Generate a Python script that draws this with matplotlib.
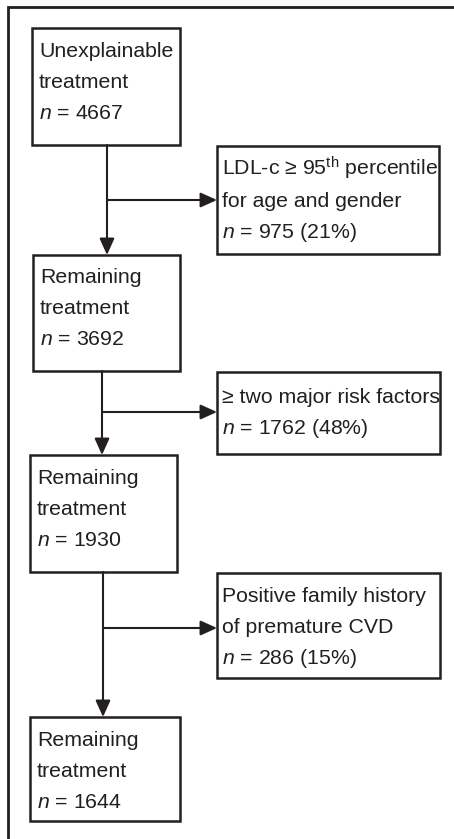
import matplotlib.pyplot as plt
from matplotlib.patches import Rectangle

plt.rcParams['font.family'] = ['Liberation Sans', 'DejaVu Sans']
plt.rcParams['mathtext.fontset'] = 'custom'
plt.rcParams['mathtext.rm'] = 'Liberation Sans'
plt.rcParams['mathtext.it'] = 'Liberation Sans:italic'

# flow counts
remaining_n = [4667, 3692, 1930, 1644]
excluded_n = [975, 1762, 286]
excluded_pct = [21, 48, 15]

main_labels = ["Unexplainable\ntreatment", "Remaining\ntreatment",
               "Remaining\ntreatment", "Remaining\ntreatment"]
excl_labels = ["LDL-c \u2265 95$^{\\mathrm{th}}$ percentile\nfor age and gender",
               "\u2265 two major risk factors",
               "Positive family history\nof premature CVD"]

# layout in pixels (x0, y0, x1, y1) and text baselines
main_boxes = [(32, 28, 180, 145), (33, 255, 180, 371),
              (30, 455, 177, 572), (30, 717, 180, 821)]
main_base = [57, 283, 484, 746]
excl_boxes = [(217, 146, 439, 254), (217, 372, 440, 454), (217, 573, 440, 678)]
excl_base = [176, 403, 602]
stem_x = [107, 102, 103]
branch_y = [200, 412, 628]
line_gap = 31

fig = plt.figure(figsize=(4.54, 8.39), dpi=100)
ax = fig.add_axes([0, 0, 1, 1])
ax.set_xlim(0, 454)
ax.set_ylim(839, 0)
ax.axis('off')

col = '#231f20'
fs = 15.3

# outer frame (only top/left visible)
ax.plot([8, 8, 460], [845, 7, 7], color=col, lw=2, solid_joinstyle='miter')


def box(b, lines, base, pad):
    x0, y0, x1, y1 = b
    ax.add_patch(Rectangle((x0, y0), x1 - x0, y1 - y0, fill=False,
                           ec=col, lw=1.8))
    for k, t in enumerate(lines):
        ax.text(x0 + pad, base + k * line_gap, t, fontsize=fs, color=col,
                va='baseline', ha='left')


for i in range(4):
    lines = main_labels[i].split('\n') + [f"$n$ = {remaining_n[i]}"]
    box(main_boxes[i], lines, main_base[i], 7)

for i in range(3):
    lines = excl_labels[i].split('\n') + [f"$n$ = {excluded_n[i]} ({excluded_pct[i]}%)"]
    box(excl_boxes[i], lines, excl_base[i], 5)

head = '-|>,head_length=1.0,head_width=0.45'
for i in range(3):
    x = stem_x[i]
    top = main_boxes[i][3]
    bot = main_boxes[i + 1][1]
    ax.annotate('', xy=(x, bot), xytext=(x, top),
                arrowprops=dict(arrowstyle=head, color=col, lw=1.5,
                                shrinkA=0, shrinkB=0))
    ax.annotate('', xy=(excl_boxes[i][0], branch_y[i]), xytext=(x, branch_y[i]),
                arrowprops=dict(arrowstyle=head, color=col, lw=1.5,
                                shrinkA=0, shrinkB=0))

fig.savefig('out.png', dpi=100, facecolor='white')
